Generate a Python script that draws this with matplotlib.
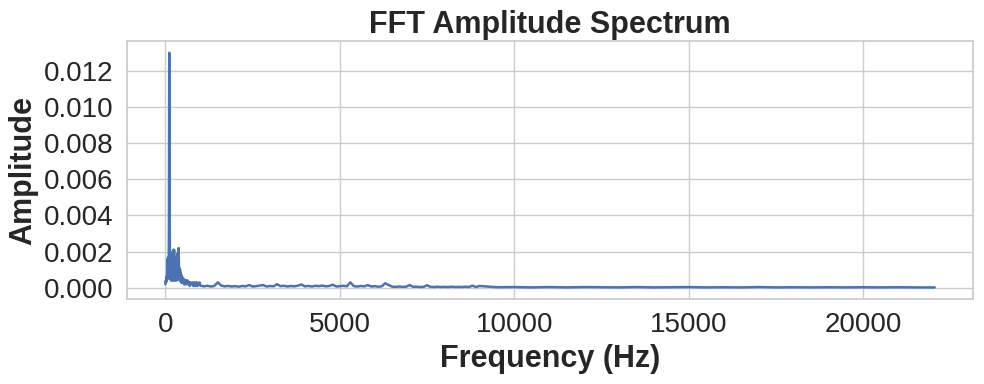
import matplotlib
matplotlib.use("Agg")
import matplotlib.pyplot as plt
from matplotlib.ticker import MultipleLocator
import seaborn as sns

# FFT bins (Hz), coarser spacing where the spectrum is flat
freq_low = list(range(0, 600, 10))
freq_tail = list(range(600, 1000, 20))
freq_mid = list(range(1000, 9000, 100))
freq_high = list(range(9000, 22001, 500)) + [22050]

amp_low = [
    0.0002, 0.0004, 0.0003, 0.0006, 0.0004, 0.0009, 0.0016, 0.0005, 0.0017, 0.0006,
    0.0030, 0.0130, 0.0045, 0.0018, 0.0005, 0.0019, 0.0004, 0.0017, 0.0006, 0.0019,
    0.0004, 0.0020, 0.0006, 0.0021, 0.0004, 0.0021, 0.0007, 0.0016, 0.0004, 0.0015,
    0.0005, 0.0017, 0.0004, 0.0016, 0.0006, 0.0019, 0.0005, 0.0021, 0.0022, 0.0008,
    0.0011, 0.0004, 0.0010, 0.0004, 0.0008, 0.0003, 0.0007, 0.0003, 0.0006, 0.0003,
    0.0005, 0.0003, 0.0005, 0.0002, 0.0004, 0.0002, 0.0004, 0.0002, 0.0004, 0.0002,
]
amp_tail = [
    0.0004, 0.0002, 0.0004, 0.0002, 0.0003, 0.0001, 0.0003, 0.0002, 0.0002, 0.0003,
    0.0001, 0.0002, 0.0003, 0.0001, 0.0002, 0.0003, 0.0001, 0.0002, 0.0002, 0.0003,
]
amp_mid = [
    0.00012, 0.00008, 0.00011, 0.00007, 0.00010, 0.00030, 0.00012, 0.00008, 0.00010, 0.00007,
    0.00009, 0.00006, 0.00010, 0.00008, 0.00015, 0.00007, 0.00009, 0.00012, 0.00015, 0.00007,
    0.00010, 0.00008, 0.00020, 0.00009, 0.00011, 0.00007, 0.00010, 0.00008, 0.00012, 0.00018,
    0.00008, 0.00010, 0.00007, 0.00011, 0.00009, 0.00012, 0.00008, 0.00010, 0.00017, 0.00007,
    0.00009, 0.00011, 0.00008, 0.00030, 0.00009, 0.00007, 0.00010, 0.00008, 0.00015, 0.00007,
    0.00009, 0.00006, 0.00008, 0.00025, 0.00015, 0.00006, 0.00005, 0.00007, 0.00005, 0.00006,
    0.00015, 0.00005, 0.00006, 0.00004, 0.00005, 0.00014, 0.00005, 0.00004, 0.00006, 0.00004,
    0.00005, 0.00004, 0.00006, 0.00004, 0.00005, 0.00004, 0.00006, 0.00004, 0.00012, 0.00004,
]
amp_high = [
    0.00010, 0.00003, 0.00004, 0.00002, 0.00004, 0.00002, 0.00004, 0.00003, 0.00002, 0.00004,
    0.00002, 0.00003, 0.00004, 0.00002, 0.00003, 0.00002, 0.00004, 0.00002, 0.00003, 0.00002,
    0.00003, 0.00002, 0.00003, 0.00002, 0.00003, 0.00002, 0.00002, 0.00002,
]

freqs = freq_low + freq_tail + freq_mid + freq_high
amps = amp_low + amp_tail + amp_mid + amp_high

sns.set_theme(style="whitegrid")
plt.rcParams['font.family'] = ['Liberation Sans', 'DejaVu Sans']

fig, ax = plt.subplots(figsize=(9.84, 3.84), dpi=100)
fig.subplots_adjust(left=0.129, right=0.989, top=0.893, bottom=0.221)

ax.plot(freqs, amps, color="#4C72B0", linewidth=1.8)

ax.set_title("FFT Amplitude Spectrum", fontsize=22, fontweight="bold")
ax.set_xlabel("Frequency (Hz)", fontsize=22, fontweight="bold")
ax.set_ylabel("Amplitude", fontsize=22, fontweight="bold")
ax.yaxis.set_major_locator(MultipleLocator(0.002))
ax.tick_params(axis="both", labelsize=20)

plt.savefig("out.png", dpi=100)
plt.close()
